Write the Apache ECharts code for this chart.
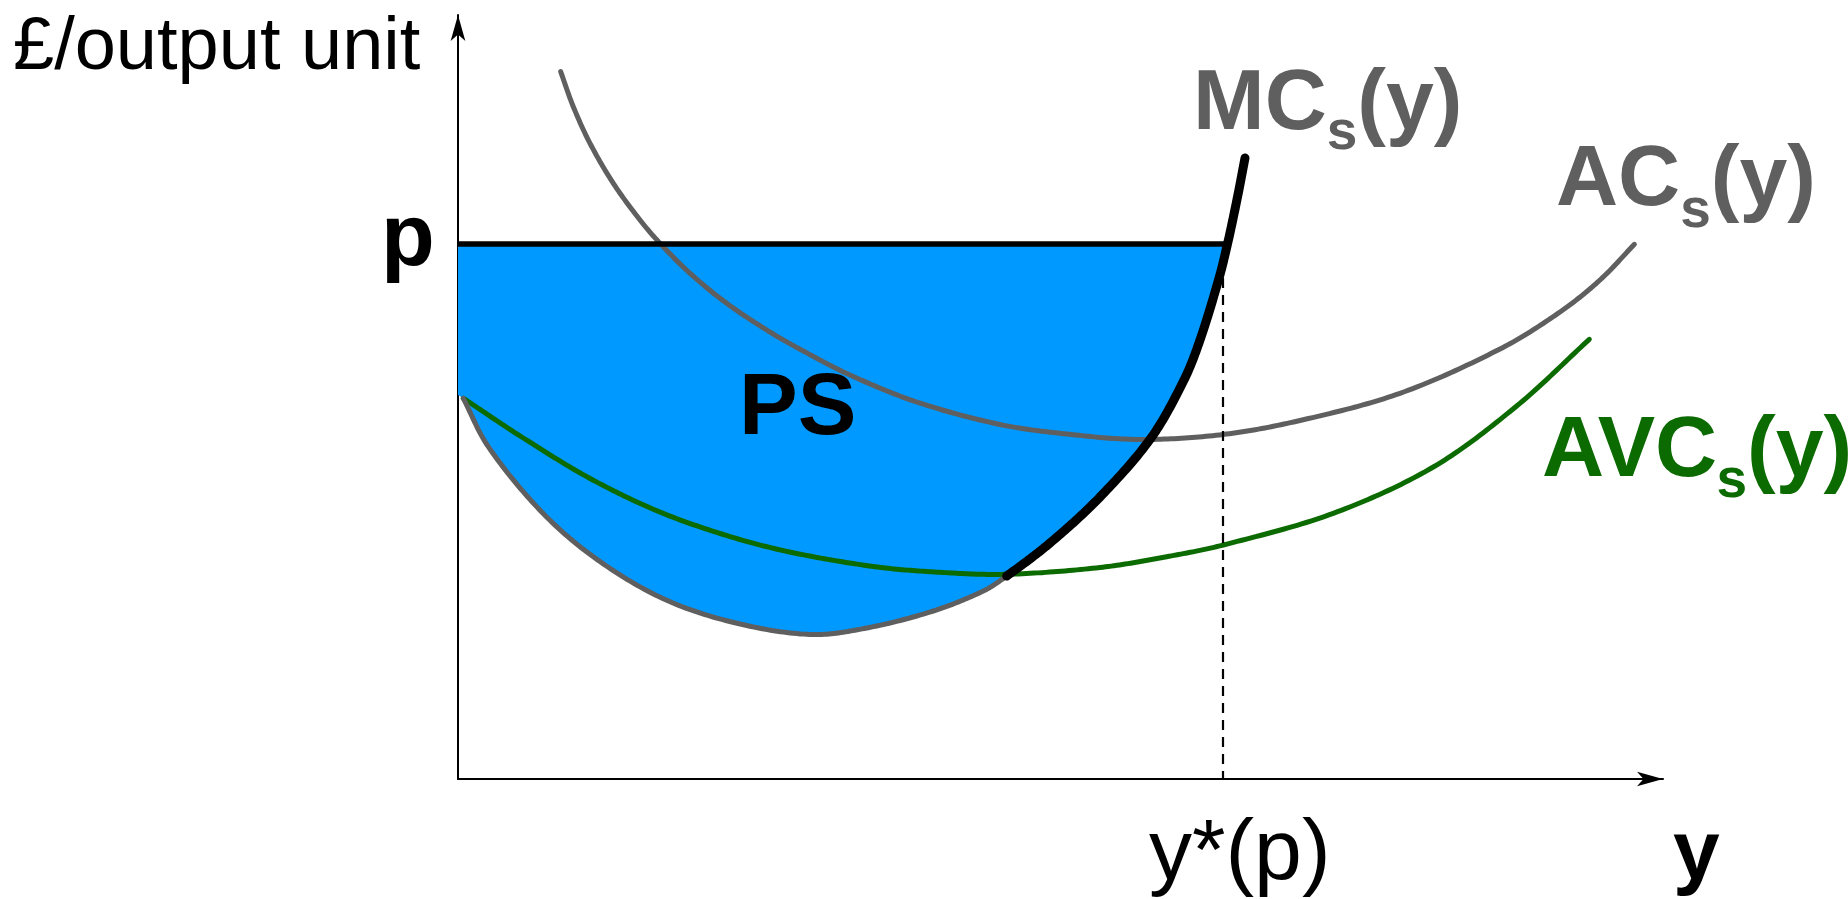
<!DOCTYPE html>
<html>
<head>
<meta charset="utf-8">
<script src="https://cdn.jsdelivr.net/npm/echarts@6/dist/echarts.min.js"></script>
<style>
html,body{margin:0;padding:0;background:#fff;}
#chart{width:1848px;height:899px;}
</style>
</head>
<body>
<div id="chart"></div>
<script>
// Price level and output y*(p)
const priceP = 53.5;
const yStar = 76.5;

// Average cost AC_s(y)
const acCurve = [[10.27,70.73],[11.53,67.23],[13.2,63.57],[15.53,59.57],[18.2,55.9],[20.2,53.57],[23.2,50.57],[26.87,47.57],[30.87,44.9],[34.03,43.07],[39.2,40.4],[45.87,37.7],[54.2,35.45],[60.87,34.5],[68.2,33.95],[76.5,34.45],[84.2,35.85],[94.2,38.57],[104.2,43.0],[110.2,46.7],[114.2,49.9],[117.64,53.47]];

// Average variable cost AVC_s(y)
const avcCurve = [[0.53,38.07],[6.37,34.2],[13.03,30.15],[19.7,26.9],[26.37,24.5],[33.03,22.73],[41.7,21.23],[48.2,20.67],[54.87,20.47],[64.2,21.15],[70.87,22.23],[76.53,23.4],[87.53,26.57],[97.53,31.2],[105.87,37.3],[113.13,43.97]];

// Marginal cost MC_s(y): part below the AVC minimum (grey) and supply part (black)
const mcLow = [[0.53,38.07],[3.03,33.23],[8.37,26.7],[13.7,22.1],[20.37,18.1],[27.37,15.7],[35.2,14.45],[40.87,15.1],[47.53,16.8],[52.53,18.8],[54.87,20.3]];
const mcHigh = [[54.87,20.3],[59.2,23.6],[64.2,28.2],[69.3,34.1],[72.6,39.9],[74.2,43.9],[76.05,49.9],[76.95,53.5],[77.95,58.2],[78.7,62.1]];

// left edge of the producer-surplus area on the vertical axis
const psLeft = [0, 38.4];

const xMax = 120.5, yMax = 76.4;

const mcAll = mcLow.concat(mcHigh.slice(1));
const mcSplit = mcLow.length - 1;                       // segment index where MC turns black
const mcPIdx = mcAll.findIndex(d => Math.abs(d[1] - priceP) < 1e-6); // MC point at price p

const FONT = '"Liberation Sans", Arial, Helvetica, sans-serif';
const GREY = '#5f5f5f';
const GREEN = '#0b6b00';

// Smooth curve through data points (pixel space, tangent-continuous cubic segments)
function sampleCurve(data, api, segFrom, segTo) {
  const P = data.map(d => api.coord(d));
  const n = P.length;
  const tan = P.map((p, i) => {
    const a = P[Math.max(0, i - 1)], b = P[Math.min(n - 1, i + 1)];
    const dx = b[0] - a[0], dy = b[1] - a[1];
    const l = Math.hypot(dx, dy) || 1;
    return [dx / l, dy / l];
  });
  const out = [];
  const s0 = segFrom == null ? 0 : segFrom;
  const s1 = segTo == null ? n - 1 : segTo;
  for (let i = s0; i < s1; i++) {
    const p0 = P[i], p3 = P[i + 1];
    const L = Math.hypot(p3[0] - p0[0], p3[1] - p0[1]) / 3;
    const p1 = [p0[0] + tan[i][0] * L, p0[1] + tan[i][1] * L];
    const p2 = [p3[0] - tan[i + 1][0] * L, p3[1] - tan[i + 1][1] * L];
    const steps = 24;
    for (let k = (i === s0 ? 0 : 1); k <= steps; k++) {
      const t = k / steps, u = 1 - t;
      out.push([
        u*u*u*p0[0] + 3*u*u*t*p1[0] + 3*u*t*t*p2[0] + t*t*t*p3[0],
        u*u*u*p0[1] + 3*u*u*t*p1[1] + 3*u*t*t*p2[1] + t*t*t*p3[1]
      ]);
    }
  }
  return out;
}

function curveSeries(name, data, color, width, z, segFrom, segTo) {
  return {
    name: name, type: 'custom', data: data, encode: {x: 0, y: 1}, silent: true, z: z, clip: false,
    renderItem: function (params, api) {
      if (params.dataIndex !== 0) return null;
      return {
        type: 'polyline',
        shape: {points: sampleCurve(data, api, segFrom, segTo)},
        style: {stroke: color, lineWidth: width, fill: null, lineCap: 'round', lineJoin: 'round'}
      };
    }
  };
}

function txt(x, y, text, size, weight, color) {
  return {
    type: 'text', x: x, y: y, z: 100, silent: true,
    style: {
      text: text,
      font: weight + ' ' + size + 'px ' + FONT,
      fill: color,
      textAlign: 'left', textVerticalAlign: 'middle',
      align: 'left', verticalAlign: 'middle'
    }
  };
}

const chart = echarts.init(document.getElementById('chart'), null, {renderer: 'canvas'});

const axisCommon = {
  type: 'value', min: 0,
  axisLine: {show: true, onZero: false, symbol: ['none', 'arrow'], symbolSize: [11, 26], lineStyle: {color: '#000', width: 2}},
  axisTick: {show: false}, axisLabel: {show: false}, splitLine: {show: false}
};

const option = {
  animation: false,
  backgroundColor: '#fff',
  grid: {left: 458, right: 185, top: 15, bottom: 120},
  xAxis: Object.assign({}, axisCommon, {max: xMax}),
  yAxis: Object.assign({}, axisCommon, {max: yMax}),
  series: [
    {
      name: 'PS', type: 'custom', data: mcAll.slice(0, mcPIdx + 1), encode: {x: 0, y: 1}, silent: true, z: 1,
      renderItem: function (params, api) {
        if (params.dataIndex !== 0) return null;
        const pts = [api.coord([0, priceP]), api.coord(psLeft)]
          .concat(sampleCurve(mcAll, api, 0, mcPIdx));
        return {type: 'polygon', shape: {points: pts}, style: {fill: '#0099ff', stroke: null}};
      }
    },
    curveSeries('AC', acCurve, GREY, 5, 3),
    curveSeries('AVC', avcCurve, GREEN, 5, 3),
    curveSeries('MC low', mcAll, GREY, 5, 3, 0, mcSplit),
    {
      name: 'ystar', type: 'line', data: [[yStar, priceP], [yStar, 0]], symbol: 'none', silent: true, z: 3,
      lineStyle: {color: '#000', width: 2.2, type: [10, 7]}
    },
    {
      name: 'price', type: 'line', data: [[0, priceP], [mcAll[mcPIdx][0], priceP]], symbol: 'none', silent: true, z: 4,
      lineStyle: {color: '#000', width: 5.5}
    },
    curveSeries('MC high', mcAll, '#000', 9, 5, mcSplit, mcAll.length - 1)
  ],
  graphic: [
    txt(13, 48.7, '£/output unit', 74, 'normal', '#000'),
    txt(381, 240.7, 'p', 88, 'bold', '#000'),
    txt(739, 409.4, 'PS', 88, 'bold', '#000'),
    txt(1193, 105, 'MC', 86, 'bold', GREY),
    txt(1326.7, 133.7, 's', 55, 'bold', GREY),
    txt(1357.3, 105, '(y)', 86, 'bold', GREY),
    txt(1556, 181.6, 'AC', 86, 'bold', GREY),
    txt(1680.2, 211.6, 's', 55, 'bold', GREY),
    txt(1710.8, 181.6, '(y)', 86, 'bold', GREY),
    txt(1542, 452.3, 'AVC', 86, 'bold', GREEN),
    txt(1716.5, 482, 's', 55, 'bold', GREEN),
    txt(1747.1, 452.3, '(y)', 86, 'bold', GREEN),
    txt(1149, 855.3, 'y*(p)', 86, 'normal', '#000'),
    txt(1673, 856, 'y', 84, 'bold', '#000')
  ]
};
chart.setOption(option);
</script>
</body>
</html>
